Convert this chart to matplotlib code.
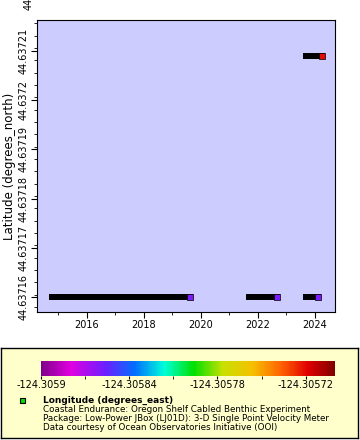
import numpy as np
import pandas as pd
import matplotlib
matplotlib.use("Agg")
import matplotlib.pyplot as plt
import matplotlib.dates as mdates
from matplotlib.colors import LinearSegmentedColormap, Normalize
from matplotlib.cm import ScalarMappable
from matplotlib.ticker import FixedLocator

# deployments: first/last sample time, position
seg_start = ["2014-10-12", "2021-09-09", "2023-09-02", "2023-09-02"]
seg_end = ["2019-08-11", "2022-09-02", "2024-02-06", "2024-03-28"]
seg_lat = [44.637160, 44.637160, 44.637160, 44.637209]
seg_lon = [-124.30586, -124.30586, -124.30586, -124.30572]

lat_ticks = [44.63716, 44.63717, 44.63718, 44.63719, 44.6372, 44.63721]
lat_labels = ["44.63716", "44.63717", "44.63718", "44.63719", "44.6372", "44.63721"]
year_ticks = [2016, 2018, 2020, 2022, 2024]
lon_ticks = [-124.3059, -124.30584, -124.30578, -124.30572]
lon_labels = ["-124.3059", "-124.30584", "-124.30578", "-124.30572"]

legend_title = "Longitude (degrees_east)"
legend_lines = [
    "Coastal Endurance: Oregon Shelf Cabled Benthic Experiment",
    "Package: Low-Power JBox (LJ01D): 3-D Single Point Velocity Meter",
    "Data courtesy of Ocean Observatories Initiative (OOI)",
]

cmap = LinearSegmentedColormap.from_list("rainbow2", [
    (0.00, "#80008a"), (0.10, "#e000e0"), (0.22, "#6a20ff"),
    (0.32, "#0070ff"), (0.42, "#00ffd8"), (0.52, "#00e000"),
    (0.62, "#c8e000"), (0.72, "#f5c000"), (0.82, "#ff6000"),
    (0.91, "#e00000"), (1.00, "#800000")])
norm = Normalize(-124.3059, -124.3057)

fig = plt.figure(figsize=(3.6, 4.4), dpi=100)
ax = fig.add_axes([37 / 360, 1 - 312 / 440, 298 / 360, 292 / 440])
ax.set_facecolor("#ccccff")

starts = pd.to_datetime(seg_start)
ends = pd.to_datetime(seg_end)
for s, e, la, lo in zip(starts, ends, seg_lat, seg_lon):
    ax.plot([s, e], [la, la], color="black", lw=4.3,
            solid_capstyle="projecting", zorder=2)
    ax.scatter([e], [la], c=[lo], cmap=cmap, norm=norm, marker="s",
               s=13, edgecolors="black", linewidths=0.5, zorder=3)

ax.set_xlim(pd.Timestamp("2014-04-05"), pd.Timestamp("2024-09-13"))
ax.set_ylim(44.6371570, 44.6372162)

ax.xaxis.set_major_locator(FixedLocator(
    [mdates.date2num(pd.Timestamp(f"{y}-01-01")) for y in year_ticks]))
ax.xaxis.set_major_formatter(mdates.DateFormatter("%Y"))
ax.xaxis.set_minor_locator(mdates.YearLocator(1))
ax.set_yticks(lat_ticks)
ax.set_yticklabels(lat_labels)
ax.yaxis.set_minor_locator(FixedLocator(
    np.arange(44.637158, 44.637216, 0.0000025)))

ax.tick_params(which="both", direction="out", labelsize=7, pad=2)
ax.tick_params(which="major", length=4)
ax.tick_params(which="minor", length=2)
for lab in ax.get_yticklabels():
    lab.set_rotation(90)
    lab.set_va("center")
# top label sits partly above the figure, as in the original
ax.text(-0.012, 44.637223, "44.63722", transform=ax.get_yaxis_transform(),
        rotation=90, ha="right", va="center", fontsize=7, clip_on=False)
ax.set_ylabel("Latitude (degrees_north)", fontsize=8.5, labelpad=2)

# legend panel
box = fig.add_axes([1 / 360, 2 / 440, 357 / 360, 90 / 440], zorder=0)
box.set_facecolor("#ffffcc")
box.set_xticks([])
box.set_yticks([])
for sp in box.spines.values():
    sp.set_linewidth(1)

cax = fig.add_axes([41 / 360, 1 - 376 / 440, 294 / 360, 15 / 440], zorder=1)
cb = fig.colorbar(ScalarMappable(norm=norm, cmap=cmap), cax=cax,
                  orientation="horizontal")
cb.outline.set_visible(False)
cb.set_ticks(lon_ticks)
cb.set_ticklabels(lon_labels)
cax.xaxis.set_minor_locator(FixedLocator(
    np.arange(-124.30587, -124.3057, 0.00006)))
cax.tick_params(which="both", direction="out", length=2, labelsize=7, pad=1)

fig.patches.append(plt.Rectangle((20 / 360, 1 - 403 / 440), 5 / 360, 5 / 440,
                                 facecolor="#00e000", edgecolor="black",
                                 lw=0.8, transform=fig.transFigure,
                                 figure=fig, zorder=5))
fig.text(43 / 360, 1 - 400 / 440, legend_title, fontsize=6.5,
         fontweight="bold", va="center", zorder=5)
for i, line in enumerate(legend_lines):
    fig.text(43 / 360, 1 - (409 + 9 * i) / 440, line, fontsize=6.3,
             va="center", zorder=5)

fig.savefig("out.png", dpi=100)
